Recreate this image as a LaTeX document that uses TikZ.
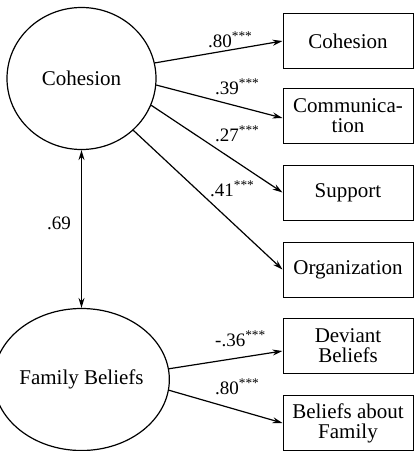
\documentclass[tikz,border=0pt]{standalone}
\usepackage{fontspec}
\setmainfont{Liberation Serif}
\usetikzlibrary{arrows.meta,shapes.geometric}
\newcommand{\boxx}{348}
\newcommand{\sig}[1]{#1\textsuperscript{***}}
\newcommand{\ind}[3]{
	\node [indicator] (#1) at (\boxx,#2) {#3};
	}
\newcommand{\coef}[3]{
	\node [coef] (#1) at (#2) {#3};
	}

\begin{document}
\begin{tikzpicture}[
      x=1pt, y=-1pt, %pixel units, y downwards
      factor/.style={ellipse, draw, line width=1.2pt, minimum width=149pt, minimum height=142pt, inner sep=0pt, font=\fontsize{21}{20}\selectfont},
      indicator/.style={rectangle, draw, line width=1pt, minimum width=130pt, minimum height=55pt, align=center, font=\fontsize{21}{20}\selectfont},
      load/.style={line width=1.2pt, -{Stealth[length=10pt,width=6pt]}},
      corr/.style={line width=1.2pt, {Stealth[length=10pt,width=6pt]}-{Stealth[length=10pt,width=6pt]}},
      coef/.style={anchor=base west, inner sep=0pt, font=\fontsize{19}{19}\selectfont}
    ]
    \useasboundingbox (0,0) rectangle (414,451);
    % Draw the latent factors
    \node [factor] (coh) at (81.5,78.5) {Cohesion};
    \node [factor] (fam) at (81.5,379.5) {Family Beliefs};
    % Draw the indicators
    \ind{icoh}{41}{Cohesion};
    \ind{icom}{115.5}{Communica-\\tion};
    \ind{isup}{192.5}{Support};
    \ind{iorg}{269.5}{Organization};
    \ind{idev}{346}{Deviant\\Beliefs};
    \ind{ibel}{423}{Beliefs about\\Family};
    % Loadings
    \draw [load] (coh.12) -- (icoh.west);
    \draw [load] (coh.-5) -- ([yshift=-2.5pt]icom.west);
    \draw [load] (coh.-21) -- (isup.west);
    \draw [load] (coh.-45.5) -- (iorg.west);
    \draw [load] (fam.7) -- ([yshift=-5pt]idev.west);
    \draw [load] (fam.-7) -- (ibel.west);
    % Correlation
    \draw [corr] (coh.south) -- (fam.north);
    % Coefficients
    \coef{lcoh}{208,47}{\sig{.80}};
    \coef{lcom}{215,94}{\sig{.39}};
    \coef{lsup}{215,141}{\sig{.27}};
    \coef{lorg}{210,196}{\sig{.41}};
    \coef{ldev}{215,346}{\sig{-.36}};
    \coef{lbel}{215,394}{\sig{.80}};
    \coef{lcor}{47,229}{.69};
    \end{tikzpicture}
\end{document}
